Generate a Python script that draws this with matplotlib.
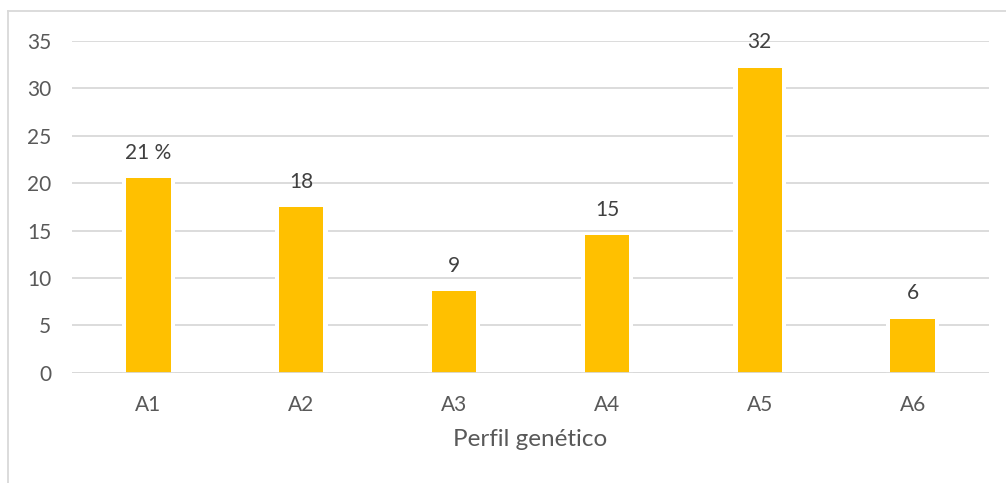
import matplotlib.pyplot as plt
from matplotlib.lines import Line2D
from decimal import Decimal, ROUND_HALF_UP

plt.rcParams['font.family'] = ['Lato', 'DejaVu Sans']

# Perfiles genéticos y porcentajes
perfiles = ['A1', 'A2', 'A3', 'A4', 'A5', 'A6']
porcentajes = [20.5, 17.5, 8.6, 14.5, 32.2, 5.7]


def redondear(v):
    return int(Decimal(str(v)).quantize(Decimal('1'), rounding=ROUND_HALF_UP))


fig = plt.figure(figsize=(10.06, 4.83), dpi=100)
ax = fig.add_axes([0.0716, 0.2284, 0.9115, 0.6867])

x = range(len(perfiles))
# fondo blanco un poco más ancho para cortar la cuadrícula junto a las barras
ax.bar(x, porcentajes, width=0.345, color='white', zorder=2)
ax.bar(x, porcentajes, width=0.29, color='#FFC000', zorder=3)
ax.axhline(0, color='#D9D9D9', lw=1.3, zorder=4)

for i, v in enumerate(porcentajes):
    txt = str(redondear(v)) + (' %' if i == 0 else '')
    ax.annotate(txt, (i, v), xytext=(0, 11), textcoords='offset points',
                ha='center', va='bottom', fontsize=15, color='#404040')

ax.set_xlim(-0.5, 5.5)
ax.set_ylim(0, 35)
ax.set_yticks(range(0, 36, 5))
ax.set_xticks(list(x))
ax.set_xticklabels(perfiles)
ax.yaxis.grid(True, color='#D9D9D9', lw=1.3, zorder=0)
ax.set_axisbelow(True)
for s in ax.spines.values():
    s.set_visible(False)
ax.tick_params(length=0, labelsize=15, labelcolor='#595959')
ax.tick_params(axis='y', pad=15)
ax.tick_params(axis='x', pad=16)
ax.set_xlabel('Perfil genético', fontsize=17.5, color='#595959', labelpad=10)

# marco exterior del gráfico
fig.add_artist(Line2D([8 / 1006, 8 / 1006], [0, 1 - 11 / 483], color='#D9D9D9', lw=1.3))
fig.add_artist(Line2D([8 / 1006, 1], [1 - 11 / 483, 1 - 11 / 483], color='#D9D9D9', lw=1.3))

fig.savefig('out.png', dpi=100)
